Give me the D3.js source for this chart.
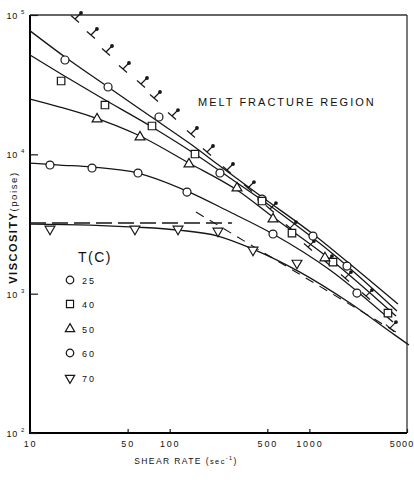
<!DOCTYPE html>
<html><head><meta charset="utf-8">
<script src="https://cdn.jsdelivr.net/npm/d3@7"></script>
<style>
body{margin:0;background:#fff}
svg{display:block}
text{font-family:"Liberation Sans",Arial,sans-serif;fill:#111}
</style>
</head><body>
<svg id="c" width="414" height="482"></svg>
<script>
// ---------- data ----------
const xTicks = [10, 50, 100, 500, 1000, 5000];
const xTickLabels = ["10", "50", "100", "500", "1000", "5000"];
const yTicks = [100, 1000, 10000, 100000];
const yTickExp = ["2", "3", "4", "5"];
const temps = ["25", "40", "50", "60", "70"];

// measured points (shear rate, viscosity)
const rate25 = [17.8, 36.2, 83.8, 229, 458, 1061, 1859];
const visc25 = [47530, 30420, 18530, 7342, 4777, 2591, 1578];
const rate40 = [16.7, 34.4, 74.7, 151.8, 458, 751, 1476, 3653];
const visc40 = [33590, 22590, 15970, 10050, 4622, 2723, 1686, 725];
const rate50 = [30.2, 61.3, 137.4, 303.3, 549, 1293];
const visc50 = [17920, 13310, 8520, 5730, 3432, 1804];
const rate60 = [13.9, 27.8, 59.3, 133, 549, 2191];
const visc60 = [8380, 7975, 7342, 5362, 2679, 1010];
const rate70 = [13.9, 56.4, 114.7, 221.7, 394.8, 815];
const visc70 = [2909, 2909, 2909, 2814, 2056, 1658];

// fitted curves
const curveRate25 = [10, 17.8, 36.2, 72.3, 144.4, 229, 458, 1061, 1953, 4307];
const curveVisc25 = [77000, 49940, 30420, 18830, 11660, 8241, 4937, 2679, 1632, 842];
const curveRate40 = [10, 16.7, 31.7, 74.7, 151.8, 270.2, 458, 751, 1476, 4237];
const curveVisc40 = [51620, 37720, 25780, 15710, 10050, 6760, 4697, 3263, 1925, 750];
const curveRate50 = [10, 16.4, 26.9, 59.3, 137.4, 303.3, 549, 1404, 4169];
const curveVisc50 = [24950, 21860, 18830, 13760, 8660, 5541, 3547, 1772, 690];
const curveRate60 = [10, 16.4, 27.8, 59.3, 133, 270.2, 549, 1404, 3967];
const curveVisc60 = [8660, 8380, 8106, 7342, 5451, 3854, 2679, 1477, 625];
const curveRate70 = [10, 26.9, 56.4, 114.7, 221.7, 394.8, 856, 1953, 4100, 5165];
const curveVisc70 = [3159, 3108, 3007, 2862, 2591, 2090, 1429, 856, 504, 428];

// dashed guide lines
const flatRate = [10, 279];
const flatVisc = [3213, 3213];
const slopeRate = [154.3, 4169];
const slopeVisc = [3854, 530];

// melt fracture points
const fracRate = [21.0, 27.3, 35.0, 46.3, 62.3, 77.2, 103.9, 142, 184.9, 257.2, 363.5, 522.4, 726.3, 977, 1315, 1798, 2542, 3776];
const fracVisc = [93600, 71850, 54260, 40960, 31970, 25370, 18830, 13990, 10390, 7716, 5730, 4050, 2957, 2160, 1686, 1294, 961, 566];

// ---------- drawing ----------
const svg = d3.select("#c");
const x = d3.scaleLog().domain([10, 5000]).range([30, 407]);
const y = d3.scaleLog().domain([100, 100000]).range([433, 15]);
const ink = "#161616";

const sets = [
  {pr: rate25, pv: visc25, cr: curveRate25, cv: curveVisc25, sym: d3.symbolCircle, size: 50, rot: 0},
  {pr: rate40, pv: visc40, cr: curveRate40, cv: curveVisc40, sym: d3.symbolSquare, size: 56, rot: 0},
  {pr: rate50, pv: visc50, cr: curveRate50, cv: curveVisc50, sym: d3.symbolTriangle, size: 42, rot: 0},
  {pr: rate60, pv: visc60, cr: curveRate60, cv: curveVisc60, sym: d3.symbolCircle, size: 50, rot: 0},
  {pr: rate70, pv: visc70, cr: curveRate70, cv: curveVisc70, sym: d3.symbolTriangle, size: 42, rot: 180}
];

// frame
svg.append("line").attr("x1", 30).attr("x2", 407).attr("y1", 15).attr("y2", 15).attr("stroke", "#333").attr("stroke-width", 1.3);
svg.append("line").attr("x1", 407).attr("x2", 407).attr("y1", 15).attr("y2", 433).attr("stroke", "#333").attr("stroke-width", 1.3);
svg.append("line").attr("x1", 30).attr("x2", 30).attr("y1", 15).attr("y2", 434).attr("stroke", "#000").attr("stroke-width", 2);
svg.append("line").attr("x1", 29).attr("x2", 407).attr("y1", 433).attr("y2", 433).attr("stroke", "#000").attr("stroke-width", 2);

// x axis
const xAxis = d3.axisBottom(x).tickValues(xTicks).tickSize(-4).tickPadding(8)
  .tickFormat((d, i) => xTickLabels[i]);
const gx = svg.append("g").attr("transform", "translate(0,433)").call(xAxis);
gx.select(".domain").remove();
gx.selectAll("line").attr("stroke", ink).attr("stroke-width", 1.2);
gx.selectAll("text").attr("font-size", 9).attr("letter-spacing", 1.8).attr("fill", ink)
  .attr("font-family", "Liberation Sans, Arial, sans-serif");
// keep the last label inside the picture
gx.selectAll(".tick").filter(d => d === 5000).select("text")
  .attr("text-anchor", "end").attr("x", 7).attr("letter-spacing", 1.2);

// y axis
const yAxis = d3.axisLeft(y).tickValues(yTicks).tickSize(-8).tickFormat("");
const gy = svg.append("g").attr("transform", "translate(30,0)").call(yAxis);
gy.select(".domain").remove();
gy.selectAll("line").attr("stroke", ink).attr("stroke-width", 1.2);
yTicks.forEach((v, i) => {
  svg.append("text").attr("x", 18).attr("y", y(v) + 4).attr("text-anchor", "end")
    .attr("font-size", 9).attr("letter-spacing", 0.8).text("10");
  svg.append("text").attr("x", 21).attr("y", y(v) - 1).attr("font-size", 6).text(yTickExp[i]);
});

// axis titles
const xt = svg.append("text").attr("x", 186).attr("y", 464).attr("text-anchor", "middle")
  .attr("font-size", 8.5).attr("letter-spacing", 1.4);
xt.append("tspan").text("SHEAR RATE (");
xt.append("tspan").attr("font-size", 7.5).text("sec");
xt.append("tspan").attr("font-size", 5.5).attr("dy", -4).text("-1");
xt.append("tspan").attr("dy", 4).text(")");

const yt = svg.append("text").attr("transform", "translate(17,227.5) rotate(-90)").attr("text-anchor", "middle");
yt.append("tspan").attr("font-size", 11).attr("font-weight", "bold").attr("letter-spacing", 1.5).text("VISCOSITY");
yt.append("tspan").attr("font-size", 9.5).attr("letter-spacing", 1.6).text("(poise)");

// curves
const line = d3.line().x(d => x(d[0])).y(d => y(d[1])).curve(d3.curveMonotoneX);
sets.forEach(s => {
  svg.append("path").datum(s.cr.map((r, i) => [r, s.cv[i]]))
    .attr("d", line).attr("fill", "none").attr("stroke", ink).attr("stroke-width", 1.3);
});

// dashed guide lines
const straight = d3.line().x(d => x(d[0])).y(d => y(d[1]));
svg.append("path").datum(flatRate.map((r, i) => [r, flatVisc[i]]))
  .attr("d", straight).attr("fill", "none").attr("stroke", ink).attr("stroke-width", 1.6)
  .attr("stroke-dasharray", "16,6");
svg.append("path").datum(slopeRate.map((r, i) => [r, slopeVisc[i]]))
  .attr("d", straight).attr("fill", "none").attr("stroke", ink).attr("stroke-width", 1.1)
  .attr("stroke-dasharray", "9,7");

// melt fracture markers
fracRate.forEach((r, i) => {
  const cx = x(r), cy = y(fracVisc[i]);
  const g = svg.append("g");
  g.append("line").attr("x1", cx - 4).attr("y1", cy - 3.5).attr("x2", cx + 4).attr("y2", cy + 3.5)
    .attr("stroke", ink).attr("stroke-width", 1.2);
  g.append("line").attr("x1", cx).attr("y1", cy).attr("x2", cx + 6).attr("y2", cy - 6)
    .attr("stroke", ink).attr("stroke-width", 1.2);
  g.append("circle").attr("cx", cx + 6).attr("cy", cy - 6).attr("r", 1.9).attr("fill", ink);
});

// data markers
sets.forEach(s => {
  const p = d3.symbol().type(s.sym).size(s.size)();
  s.pr.forEach((r, i) => {
    svg.append("path").attr("d", p)
      .attr("transform", `translate(${x(r)},${y(s.pv[i])}) rotate(${s.rot})`)
      .attr("fill", "#fff").attr("stroke", ink).attr("stroke-width", 1.2);
  });
});

// annotation
svg.append("text").attr("x", 198).attr("y", 106).attr("font-size", 11).attr("letter-spacing", 2)
  .attr("fill", "#000").text("MELT FRACTURE REGION");

// legend
svg.append("text").attr("x", 78).attr("y", 262).attr("font-size", 14).attr("letter-spacing", 1.5).text("T(C)");
temps.forEach((t, i) => {
  const ly = [280, 304, 329, 353, 378][i];
  const s = sets[i];
  svg.append("path").attr("d", d3.symbol().type(s.sym).size(s.size * 0.9)())
    .attr("transform", `translate(70,${ly}) rotate(${s.rot})`)
    .attr("fill", "#fff").attr("stroke", ink).attr("stroke-width", 1.2);
  svg.append("text").attr("x", 82).attr("y", ly + 3.5).attr("font-size", 9).attr("letter-spacing", 2).text(t);
});
</script>
</body></html>
